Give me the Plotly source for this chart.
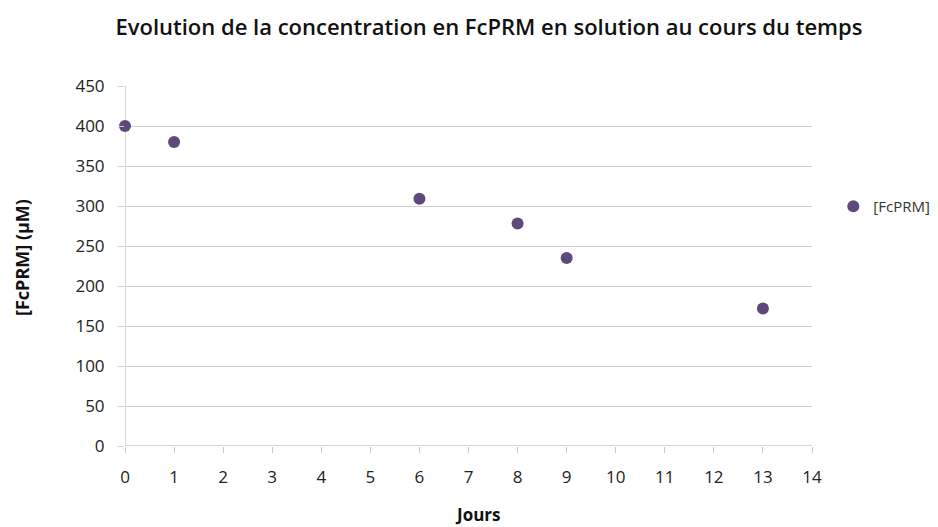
import plotly.graph_objects as go

# Days and measured FcPRM concentration (µM)
jours = [0, 1, 6, 8, 9, 13]
concentration = [400, 380, 309, 278, 235, 172]

x_ticks = list(range(0, 15))
y_ticks = list(range(0, 451, 50))

font_family = "'Open Sans', sans-serif"
axis_grey = "#c8c8c8"

fig = go.Figure()
fig.add_trace(go.Scatter(
    x=jours,
    y=concentration,
    mode="markers",
    name="[FcPRM]",
    marker=dict(color="#5f497a", size=12, line=dict(width=0)),
    cliponaxis=False,
))

fig.update_layout(
    width=938,
    height=527,
    margin=dict(l=125, r=126, t=86, b=81, autoexpand=False),
    paper_bgcolor="white",
    plot_bgcolor="white",
    font=dict(family=font_family, color="#222222"),
    title=dict(
        text="Evolution de la concentration en FcPRM en solution au cours du temps",
        x=489 / 938,
        xanchor="center",
        y=1 - 27 / 527,
        yanchor="middle",
        font=dict(size=22, color="#111111", weight=600),
    ),
    showlegend=True,
    legend=dict(
        x=1.031,
        y=0.665,
        xanchor="left",
        yanchor="middle",
        font=dict(size=15, color="#333333"),
        itemwidth=30,
        bgcolor="rgba(0,0,0,0)",
    ),
    xaxis=dict(
        range=[0, 14],
        tickvals=x_ticks,
        ticktext=[str(v) for v in x_ticks],
        showgrid=False,
        zeroline=False,
        showline=False,
        ticks="outside",
        ticklen=6,
        tickcolor=axis_grey,
        ticklabelstandoff=10,
        tickfont=dict(size=17, color="#222222"),
    ),
    yaxis=dict(
        range=[0, 450],
        tickvals=y_ticks,
        ticktext=[str(v) for v in y_ticks],
        showgrid=True,
        gridcolor="#d0d0d0",
        gridwidth=1,
        zeroline=False,
        showline=False,
        ticks="outside",
        ticklen=6,
        tickcolor="#d0d0d0",
        ticklabelstandoff=10,
        tickfont=dict(size=17, color="#222222"),
    ),
    annotations=[
        dict(text="<b>Jours</b>", xref="paper", yref="paper",
             x=(478 - 125) / 687, y=-(514 - 446) / 360,
             xanchor="center", yanchor="middle", showarrow=False,
             font=dict(size=17, color="#111111")),
        dict(text="<b>[FcPRM] (µM)</b>", xref="paper", yref="paper",
             x=-(125 - 22) / 687, y=(446 - 258) / 360,
             xanchor="center", yanchor="middle", textangle=-90, showarrow=False,
             font=dict(size=18, color="#111111")),
    ],
)

# Vertical axis line at x = 0 and horizontal base line at y = 0
fig.add_shape(type="line", xref="x", yref="paper", x0=0, x1=0, y0=0, y1=1,
              line=dict(color=axis_grey, width=1.5), layer="below")
fig.add_shape(type="line", xref="paper", yref="y", x0=0, x1=1, y0=0, y1=0,
              line=dict(color=axis_grey, width=1.5), layer="below")

fig.write_html("out.html")
